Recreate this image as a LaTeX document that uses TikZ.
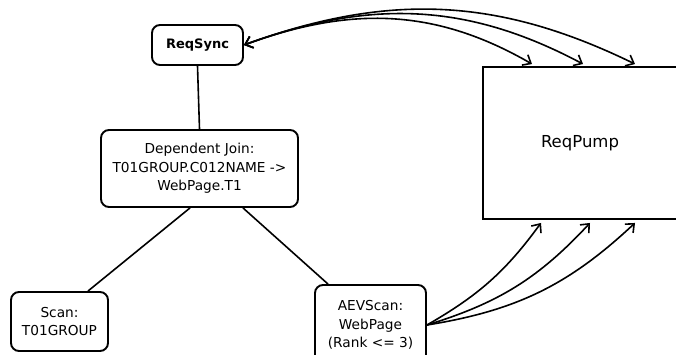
\documentclass[tikz,border=0pt]{standalone}
\usepackage{fontspec}
\setmainfont{DejaVu Sans}
\usetikzlibrary{arrows.meta}
\begin{document}
\begin{tikzpicture}[x=1pt,y=1pt,
  box/.style={draw,line width=1.9pt,rounded corners=8pt,align=center,inner sep=0pt,
              font=\fontsize{13.7}{18.3}\selectfont},
  link/.style={line width=1.6pt},
  barb/.tip={Straight Barb[length=7pt,width=12pt]},
  flow/.style={line width=1.6pt,-barb},
  duplex/.style={line width=1.6pt,barb-barb},
  ]
\useasboundingbox (0,0) rectangle (676,355);
\clip (0,0) rectangle (676,355);

% operator nodes
\node[box,minimum width=91pt,minimum height=40pt,
      font=\bfseries\fontsize{13}{16}\selectfont] (sync) at (197.5,310) {ReqSync};
\node[box,minimum width=197pt,minimum height=77pt] (join) at (199.5,186.5)
  {Dependent Join:\\T01GROUP.C012NAME ->\\WebPage.T1};
\node[box,minimum width=97pt,minimum height=59pt] (scan) at (59.5,33.5) {Scan:\\T01GROUP};
\node[box,minimum width=111pt,minimum height=80pt] (aev) at (370.5,30)
  {AEVScan:\\WebPage\\(Rank <= 3)};
\node[draw,line width=1.9pt,minimum width=194pt,minimum height=152pt,inner sep=0pt,
      font=\fontsize{16.5}{20}\selectfont] (pump) at (580,212) {ReqPump};

% plan tree edges
\draw[link] (sync.south) -- (join.north);
\draw[link] ([xshift=-9.5pt]join.south) -- ([xshift=28.5pt]scan.north);
\draw[link] ([xshift=43.5pt]join.south) -- ([xshift=-42.5pt]aev.north);

% requests between ReqSync and ReqPump
\draw[duplex] (sync.east) to[out=20,in=150] ([xshift=-48pt,yshift=2pt]pump.north);
\draw[duplex] (sync.east) to[out=20,in=152] ([xshift=3pt,yshift=2pt]pump.north);
\draw[duplex] (sync.east) to[out=20,in=154] ([xshift=55pt,yshift=2pt]pump.north);

% results flowing from AEVScan into ReqPump
\draw[flow] (aev.east) to[bend right=12] ([xshift=-39pt,yshift=-3pt]pump.south);
\draw[flow] (aev.east) to[bend right=15] ([xshift=10pt,yshift=-3pt]pump.south);
\draw[flow] (aev.east) to[bend right=17] ([xshift=55pt,yshift=-3pt]pump.south);
\end{tikzpicture}
\end{document}
